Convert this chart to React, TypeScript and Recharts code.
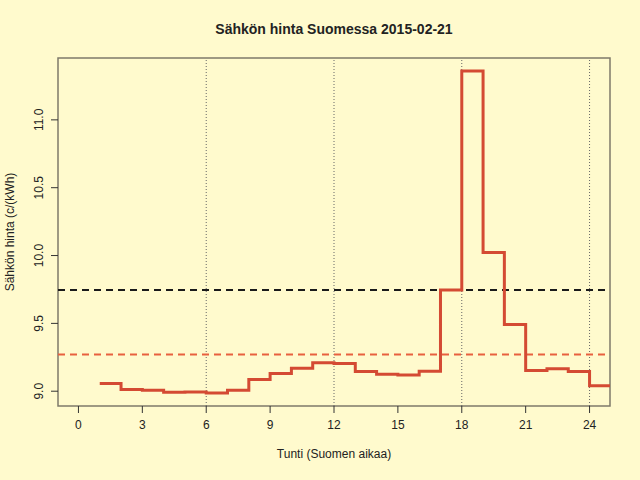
import { Line, LineChart, ReferenceArea, ReferenceLine, XAxis, YAxis } from 'recharts'

// hourly price, c/kWh, hour 1..24 (last value repeated at 25 to close the step)
const hours = [1, 2, 3, 4, 5, 6, 7, 8, 9, 10, 11, 12, 13, 14, 15, 16, 17, 18, 19, 20, 21, 22, 23, 24, 25]
const prices = [
  9.056, 9.012, 9.007, 8.993, 8.995, 8.986, 9.007, 9.086, 9.13, 9.17, 9.21, 9.205,
  9.145, 9.125, 9.12, 9.148, 9.746, 11.36, 10.022, 9.492, 9.152, 9.165, 9.145, 9.041, 9.041,
]
const xTicks = [0, 3, 6, 9, 12, 15, 18, 21, 24]
const yTicks = [9.0, 9.5, 10.0, 10.5, 11.0]
const gridHours = [6, 12, 18, 24]
const meanPrice = 9.271
const refPrice = 9.746

const xDomain: [number, number] = [-0.96, 24.96]
const yDomain: [number, number] = [8.891, 11.456]

const data = hours.map((hour, i) => ({ hour, price: prices[i] }))

const font = '"Liberation Sans", Arial, sans-serif'
const ink = '#222222'

function YTick({ x, y, payload }: any) {
  return (
    <text
      x={x - 6}
      y={y}
      transform={`rotate(-90, ${x - 6}, ${y})`}
      textAnchor="middle"
      fill={ink}
      fontSize={12}
      fontFamily={font}
    >
      {Number(payload.value).toFixed(1)}
    </text>
  )
}

function XTick({ x, y, payload }: any) {
  return (
    <text x={x} y={y + 14} textAnchor="middle" fill={ink} fontSize={12} fontFamily={font}>
      {payload.value}
    </text>
  )
}

export default function App() {
  return (
    <div
      style={{
        position: 'absolute',
        left: 0,
        top: 0,
        width: 640,
        height: 480,
        background: '#fffacd',
        fontFamily: font,
        color: ink,
      }}
    >
      <div style={{ position: 'absolute', left: 58, width: 552, top: 21, textAlign: 'center', fontSize: 14, fontWeight: 'bold' }}>
        Sähkön hinta Suomessa 2015-02-21
      </div>
      <div style={{ position: 'absolute', left: 58, width: 552, top: 447, textAlign: 'center', fontSize: 12 }}>
        Tunti (Suomen aikaa)
      </div>
      <div
        style={{
          position: 'absolute',
          left: 10 - 100,
          top: 233 - 8,
          width: 200,
          textAlign: 'center',
          fontSize: 12,
          transform: 'rotate(-90deg)',
        }}
      >
        Sähkön hinta (c/(kWh)
      </div>
      <LineChart
        width={640}
        height={480}
        data={data}
        margin={{ top: 58, right: 30, bottom: 44, left: 0 }}
        style={{ position: 'absolute', left: 0, top: 0 }}
      >
        <XAxis
          dataKey="hour"
          type="number"
          domain={xDomain}
          ticks={xTicks}
          allowDataOverflow
          height={30}
          axisLine={false}
          tickSize={7}
          tickLine={{ stroke: '#333' }}
          tick={<XTick />}
        />
        <YAxis
          type="number"
          domain={yDomain}
          ticks={yTicks}
          allowDataOverflow
          width={58}
          axisLine={false}
          tickSize={7}
          tickLine={{ stroke: '#333' }}
          tick={<YTick />}
        />
        {gridHours.map((h) => (
          <ReferenceLine key={h} x={h} stroke="#666" strokeDasharray="1 2" strokeWidth={1} />
        ))}
        <ReferenceLine y={refPrice} stroke="#1a1a1a" strokeDasharray="7 5" strokeWidth={2} />
        <ReferenceLine y={meanPrice} stroke="#e8603f" strokeDasharray="7 5" strokeWidth={2} />
        <Line
          dataKey="price"
          type="stepAfter"
          stroke="#d44a33"
          strokeWidth={3}
          dot={false}
          isAnimationActive={false}
        />
        <ReferenceArea
          x1={xDomain[0]}
          x2={xDomain[1]}
          y1={yDomain[0]}
          y2={yDomain[1]}
          fill="none"
          stroke="#7f7a6a"
          strokeWidth={1.5}
          ifOverflow="visible"
        />
      </LineChart>
    </div>
  )
}
